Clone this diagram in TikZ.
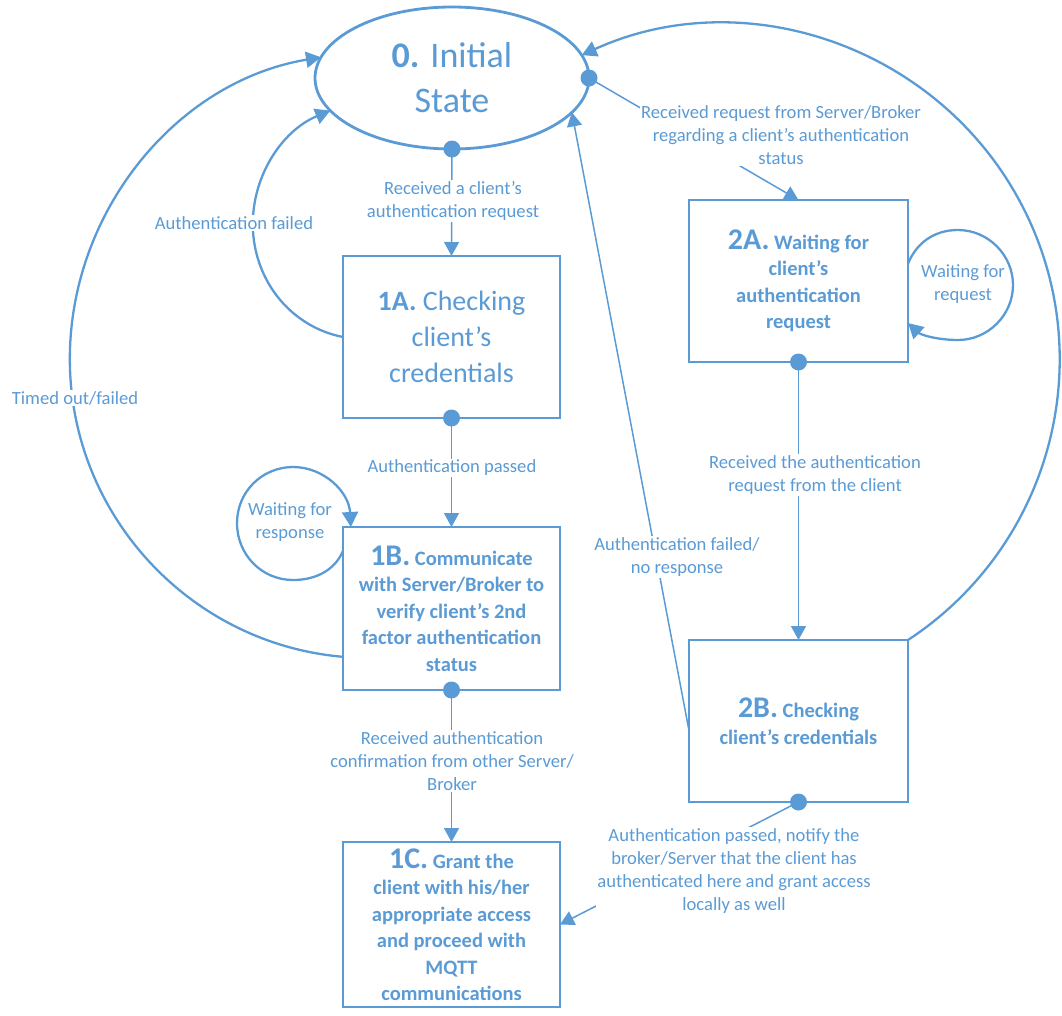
\documentclass[tikz,border=0pt]{standalone}
\usepackage{fontspec}
\setmainfont{Carlito}
\usetikzlibrary{shapes.geometric,arrows.meta}
\definecolor{vblue}{HTML}{5B9BD5}

\begin{document}
\begin{tikzpicture}[x=1pt,y=-1pt,
  every node/.style={text=vblue},
  stbox/.style={draw=vblue, line width=2.8pt, fill=white, rectangle,
    inner sep=0pt, outer sep=0pt, align=center,
    minimum width=217pt, minimum height=163pt},
  boxbody/.style={font=\fontsize{20.5}{26.5}\selectfont\bfseries},
  lbl/.style={fill=white, inner sep=1.5pt, align=center,
    font=\fontsize{18.6}{23}\selectfont},
  link/.style={draw=vblue, line width=1.5pt,
    -{Triangle[length=14pt,width=15pt]}},
  arcline/.style={draw=vblue, line width=2.3pt,
    -{Triangle[length=15pt,width=16pt]}},
  jdot/.style={circle, fill=vblue, inner sep=0pt, minimum size=17pt},
]
\useasboundingbox (0,0) rectangle (1062,1015);

% states
\node[ellipse, draw=vblue, line width=2.8pt, fill=white,
  minimum width=274pt, minimum height=142pt, inner sep=0pt, outer sep=0pt,
  align=center, font=\fontsize{36}{45}\selectfont]
  (s0) at (452,78) {\textbf{0.} Initial\\State};

\node[stbox, minimum height=162pt, font=\fontsize{28}{36}\selectfont]
  (a1) at (451.5,337) {\textbf{1A.} Checking\\client's\\credentials};

\node[stbox, boxbody] (b1) at (451.5,608.5)
  {{\fontsize{30}{30}\selectfont 1B.} Communicate\\with Server/Broker to\\verify client's 2nd\\factor authentication\\status};

\node[stbox, boxbody, minimum height=165pt] (c1) at (451.5,924.5)
  {{\fontsize{30}{30}\selectfont 1C.} Grant the\\client with his/her\\appropriate access\\and proceed with\\MQTT\\communications};

\node[stbox, boxbody, minimum width=219pt, minimum height=162pt] (a2) at (798.5,281)
  {{\fontsize{30}{30}\selectfont 2A.} Waiting for\\client's\\authentication\\request};

\node[stbox, boxbody, minimum width=219pt, minimum height=162pt] (b2) at (798.5,721)
  {{\fontsize{30}{30}\selectfont 2B.} Checking\\client's credentials};

% straight transitions
\draw[link] (s0.south) -- (a1.north);
\draw[link] (a1.south) -- (b1.north);
\draw[link] (b1.south) -- (c1.north);
\draw[link] (s0.east) -- (a2.north);
\draw[link] (a2.south) -- (b2.north);
\draw[link] (b2.south) -- (c1.east);
\draw[link] (b2.185) -- (s0.-16.5);

% curved transitions back to the initial state
\draw[arcline] (b2.north east) .. controls (1054,544) and (1103,352) .. (1018,198)
  .. controls (933,44) and (742,-18) .. (s0.10);
\draw[arcline] (b1.204.5) .. controls (193,644) and (75,520) .. (70,369)
  .. controls (65,218) and (173,82) .. (s0.171);
\draw[arcline] (a1.west) .. controls (292,327) and (256,283) .. (253,231)
  .. controls (250,179) and (281,131) .. (s0.195.6);

% self loops
\draw[arcline] (a2.9.5) .. controls (916,244) and (933,230) .. (958,230)
  .. controls (988,230) and (1013,255) .. (1013,285)
  .. controls (1013,315) and (988,340) .. (958,340)
  .. controls (938,340) and (921,335) .. (a2.-21);
\draw[arcline] (b1.152) .. controls (335,570) and (316,580) .. (293,580)
  .. controls (262,580) and (237,555) .. (237,523)
  .. controls (237,492) and (262,467) .. (293,467)
  .. controls (324,467) and (349,492) .. (b1.141);

% connection dots
\node[jdot] (d0) at (s0.south) {};
\node[jdot] (d1) at (s0.east) {};
\node[jdot] (d2) at (a1.south) {};
\node[jdot] (d3) at (b1.south) {};
\node[jdot] (d4) at (a2.south) {};
\node[jdot] (d5) at (b2.south) {};

% transition labels
\node[lbl] (l1) at (453,201) {Received a client's\\authentication request};
\node[lbl] (l2) at (452,468) {Authentication passed};
\node[lbl] (l3) at (452,761) {Received authentication\\confirmation from other Server/\\Broker};
\node[lbl] (l4) at (781,135) {Received request from Server/Broker\\regarding a client's authentication\\status};
\node[lbl] (l5) at (815,475) {Received the authentication\\request from the client};
\node[lbl] (l6) at (677,557) {Authentication failed/\\no response};
\node[lbl] (l7) at (734,871) {Authentication passed, notify the\\broker/Server that the client has\\authenticated here and grant access\\locally as well};
\node[lbl] (l8) at (234,223) {Authentication failed};
\node[lbl] (l9) at (75,398) {Timed out/failed};
\node[lbl, fill=none] (l10) at (290,522) {Waiting for\\response};
\node[lbl, fill=none] (l11) at (963,284) {Waiting for\\request};
\end{tikzpicture}
\end{document}
